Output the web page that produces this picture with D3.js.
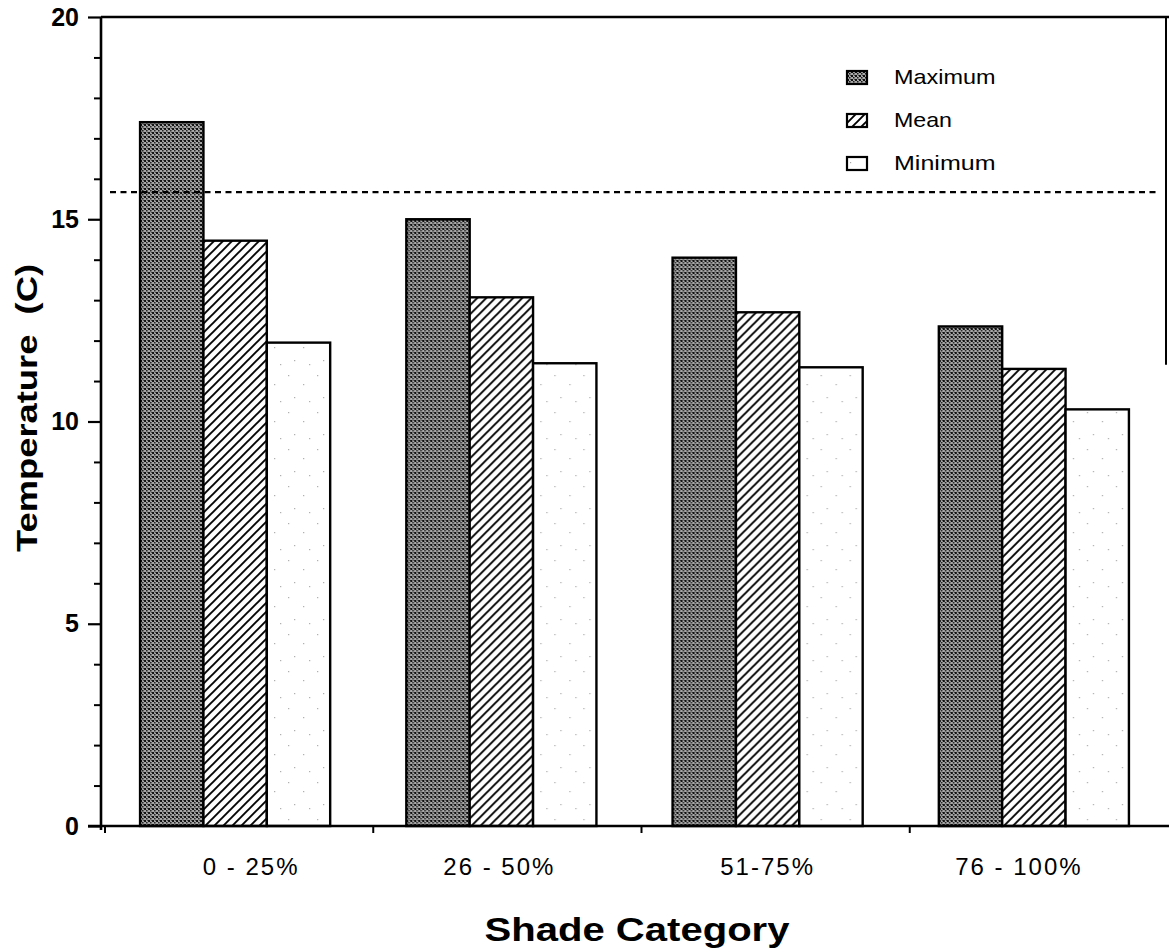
<!DOCTYPE html>
<html><head><meta charset="utf-8">
<script src="https://cdn.jsdelivr.net/npm/d3@7"></script>
<style>body{margin:0;background:#fff} svg{display:block}</style>
</head><body><svg id="c" width="1169" height="952"></svg>
<script>
// ---- data ----
const categories = ["0 - 25%", "26 - 50%", "51-75%", "76 - 100%"];
const seriesNames = ["Maximum", "Mean", "Minimum"];
const maximum = [17.4, 15.0, 14.05, 12.35];
const mean = [14.47, 13.07, 12.7, 11.3];
const minimum = [11.95, 11.44, 11.34, 10.3];
const referenceLine = [15.67];
const yMajorTicks = [0, 5, 10, 15, 20];
const yMinorTicks = [1,2,3,4,6,7,8,9,11,12,13,14,16,17,18,19];
const xTitle = "Shade Category";
const yTitle = "Temperature  (C)";

const seriesValues = {Maximum: maximum, Mean: mean, Minimum: minimum};
const rows = categories.map((c, i) => ({cat: c, vals: seriesNames.map(s => ({s, v: seriesValues[s][i]}))}));

const svg = d3.select("#c");
const font = "'Liberation Sans', Arial, Helvetica, sans-serif";

// ---- patterns ----
const defs = svg.append("defs");
const pMax = defs.append("pattern").attr("id","pMax").attr("patternUnits","userSpaceOnUse").attr("width",4).attr("height",4);
pMax.append("rect").attr("width",4).attr("height",4).attr("fill","#a8a8a8");
pMax.append("rect").attr("width",2).attr("height",2).attr("fill","#111");
pMax.append("rect").attr("x",2).attr("y",2).attr("width",1.5).attr("height",1.5).attr("fill","#1c1c1c");
pMax.append("rect").attr("x",3).attr("y",0).attr("width",1).attr("height",1).attr("fill","#4a4a4a");

const pMean = defs.append("pattern").attr("id","pMean").attr("patternUnits","userSpaceOnUse").attr("width",9).attr("height",9);
pMean.append("rect").attr("width",9).attr("height",9).attr("fill","#fff");
pMean.append("path").attr("d","M-1,1 L1,-1 M0,9 L9,0 M8,10 L10,8").attr("stroke","#000").attr("stroke-width",1.9);

const pMin = defs.append("pattern").attr("id","pMin").attr("patternUnits","userSpaceOnUse").attr("width",29).attr("height",37);
pMin.append("rect").attr("width",29).attr("height",37).attr("fill","#fff");
[[3,5],[18,14],[9,27],[24,31]].forEach(([cx,cy]) =>
  pMin.append("rect").attr("x",cx).attr("y",cy).attr("width",1.2).attr("height",1.2).attr("fill","#aaa"));

const fills = {Maximum: "url(#pMax)", Mean: "url(#pMean)", Minimum: "url(#pMin)"};

// ---- scales ----
const y = d3.scaleLinear().domain([0, 20]).range([826, 17]);
const x0 = d3.scaleBand().domain(categories).range([102, 1167]).paddingInner(0.286).paddingOuter(0.143);
const x1 = d3.scaleBand().domain(seriesNames).range([0, x0.bandwidth()]);

// ---- bars ----
const g = svg.append("g").selectAll("g").data(rows).join("g")
  .attr("transform", d => `translate(${x0(d.cat)},0)`);
g.selectAll("rect").data(d => d.vals).join("rect")
  .attr("x", d => x1(d.s))
  .attr("y", d => y(d.v))
  .attr("width", x1.bandwidth())
  .attr("height", d => y(0) - y(d.v))
  .attr("fill", d => fills[d.s])
  .attr("stroke", "#000").attr("stroke-width", 2.4);

// ---- reference dashed line ----
svg.append("g").selectAll("line").data(referenceLine).join("line")
  .attr("x1", 110).attr("x2", 1160)
  .attr("y1", d => y(d)).attr("y2", d => y(d))
  .attr("stroke", "#000").attr("stroke-width", 2.4).attr("stroke-dasharray", "6,4.5");

// ---- y axis ----
const yAxisG = svg.append("g").attr("transform", "translate(101,0)");
yAxisG.call(d3.axisLeft(y).tickValues(yMajorTicks).tickSize(13).tickPadding(9).tickSizeOuter(0));
yAxisG.select(".domain").remove();
yAxisG.selectAll(".tick line").attr("stroke","#000").attr("stroke-width",2.2);
yAxisG.selectAll(".tick text").attr("font-family", font).attr("font-size", 25).attr("font-weight","bold").attr("fill","#000");
const yMinorG = svg.append("g").attr("transform", "translate(101,0)");
yMinorG.call(d3.axisLeft(y).tickValues(yMinorTicks).tickSize(7).tickFormat(""));
yMinorG.select(".domain").remove();
yMinorG.selectAll(".tick line").attr("stroke","#000").attr("stroke-width",2);
svg.append("line").attr("x1",101).attr("x2",101).attr("y1",y(20)).attr("y2",y(0)+4)
  .attr("stroke","#000").attr("stroke-width",2.6);

// ---- frame top/right ----
svg.append("line").attr("x1",101).attr("x2",1169).attr("y1",y(20)).attr("y2",y(20))
  .attr("stroke","#000").attr("stroke-width",2.6);
svg.append("line").attr("x1",1166).attr("x2",1166).attr("y1",y(20)).attr("y2",y(11.4))
  .attr("stroke","#000").attr("stroke-width",2);

// ---- x axis ----
svg.append("line").attr("x1",88).attr("x2",1169).attr("y1",y(0)).attr("y2",y(0))
  .attr("stroke","#000").attr("stroke-width",2.6);
const gap = (x0.step() - x0.bandwidth()) / 2;
svg.append("g").selectAll("line").data(categories).join("line")
  .attr("x1", (d, i) => x0(d) - gap + 3 + i * 2).attr("x2", (d, i) => x0(d) - gap + 3 + i * 2)
  .attr("y1", y(0)).attr("y2", y(0) + 7)
  .attr("stroke","#000").attr("stroke-width",2);
const labelNudge = [16, -2, 0, -15];
svg.append("g").selectAll("text").data(categories).join("text")
  .attr("x", (d, i) => x0(d) + x0.bandwidth()/2 + labelNudge[i])
  .attr("y", 875)
  .attr("text-anchor","middle")
  .attr("font-family", font).attr("font-size", 24).attr("letter-spacing", "2px")
  .style("white-space","pre")
  .text(d => d);

// ---- titles ----
svg.append("text").attr("x", 637).attr("y", 941).attr("text-anchor","middle")
  .attr("font-family", font).attr("font-size", 33).attr("font-weight","bold")
  .attr("textLength", 305).attr("lengthAdjust","spacingAndGlyphs")
  .style("white-space","pre").text(xTitle);
svg.append("text").attr("transform","translate(37,408) rotate(-90)").attr("text-anchor","middle")
  .attr("font-family", font).attr("font-size", 29).attr("font-weight","bold")
  .attr("textLength", 288).attr("lengthAdjust","spacingAndGlyphs")
  .style("white-space","pre").text(yTitle);

// ---- legend ----
const leg = svg.append("g").selectAll("g").data(seriesNames).join("g")
  .attr("transform", (d, i) => `translate(847,${71 + i * 43})`);
leg.append("rect").attr("width", 20).attr("height", 13)
  .attr("fill", d => fills[d]).attr("stroke","#000").attr("stroke-width",2.2);
leg.append("text").attr("x", 47).attr("y", 13)
  .attr("font-family", font).attr("font-size", 21)
  .attr("textLength", d => d.length * 14.5).attr("lengthAdjust","spacingAndGlyphs")
  .text(d => d);
</script></body></html>
